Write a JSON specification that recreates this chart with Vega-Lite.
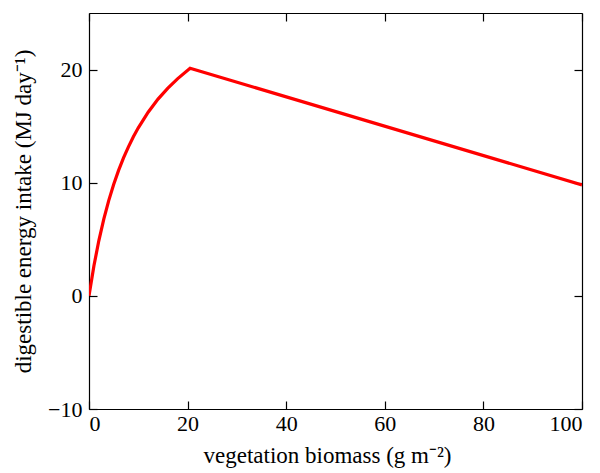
{
  "$schema": "https://vega.github.io/schema/vega-lite/v6.json",
  "width": 493,
  "height": 396,
  "autosize": "none",
  "padding": {"left": 89, "top": 13, "right": 18, "bottom": 64},
  "background": "white",
  "config": {
    "view": {"stroke": null},
    "font": "Liberation Serif",
    "axis": {
      "grid": false,
      "domainColor": "black",
      "domainWidth": 1.2,
      "tickColor": "black",
      "tickWidth": 1.2,
      "tickSize": -8,
      "labelFont": "Liberation Serif",
      "labelFontSize": 22,
      "labelColor": "black",
      "titleFont": "Liberation Serif",
      "titleFontSize": 23,
      "titleFontWeight": "normal",
      "titleColor": "black"
    }
  },
  "data": {
    "values": [
      {"x": 0, "y": 0},
      {"x": 1, "y": 2.66},
      {"x": 2, "y": 4.89},
      {"x": 3, "y": 6.78},
      {"x": 4, "y": 8.42},
      {"x": 5, "y": 9.84},
      {"x": 6, "y": 11.09},
      {"x": 7, "y": 12.19},
      {"x": 8, "y": 13.17},
      {"x": 9, "y": 14.06},
      {"x": 10, "y": 14.85},
      {"x": 12, "y": 16.23},
      {"x": 14, "y": 17.39},
      {"x": 16, "y": 18.36},
      {"x": 18, "y": 19.2},
      {"x": 20.5, "y": 20.12},
      {"x": 100, "y": 9.8}
    ]
  },
  "layer": [
    {
      "mark": {"type": "line", "color": "#ff0000", "strokeWidth": 3.2, "clip": true},
      "encoding": {
        "x": {
          "field": "x", "type": "quantitative",
          "scale": {"domain": [0, 100], "nice": false, "zero": false},
          "axis": {"values": [0, 20, 40, 60, 80, 100], "labelPadding": 12, "title": "vegetation biomass (g m⁻²)", "titlePadding": 10, "titleX": 238}
        },
        "y": {
          "field": "y", "type": "quantitative",
          "scale": {"domain": [-10, 25], "nice": false, "zero": false},
          "axis": {"values": [-10, 0, 10, 20], "labelPadding": 15, "title": "digestible energy intake (MJ day⁻¹)", "titlePadding": 12}
        }
      }
    },
    {
      "mark": {"type": "point", "opacity": 0},
      "encoding": {
        "x": {
          "field": "x", "type": "quantitative",
          "axis": {"orient": "top", "values": [0, 20, 40, 60, 80, 100], "labels": false, "title": null}
        },
        "y": {
          "field": "y", "type": "quantitative",
          "axis": {"orient": "right", "values": [-10, 0, 10, 20], "labels": false, "title": null}
        }
      }
    }
  ],
  "resolve": {"axis": {"x": "independent", "y": "independent"}}
}
